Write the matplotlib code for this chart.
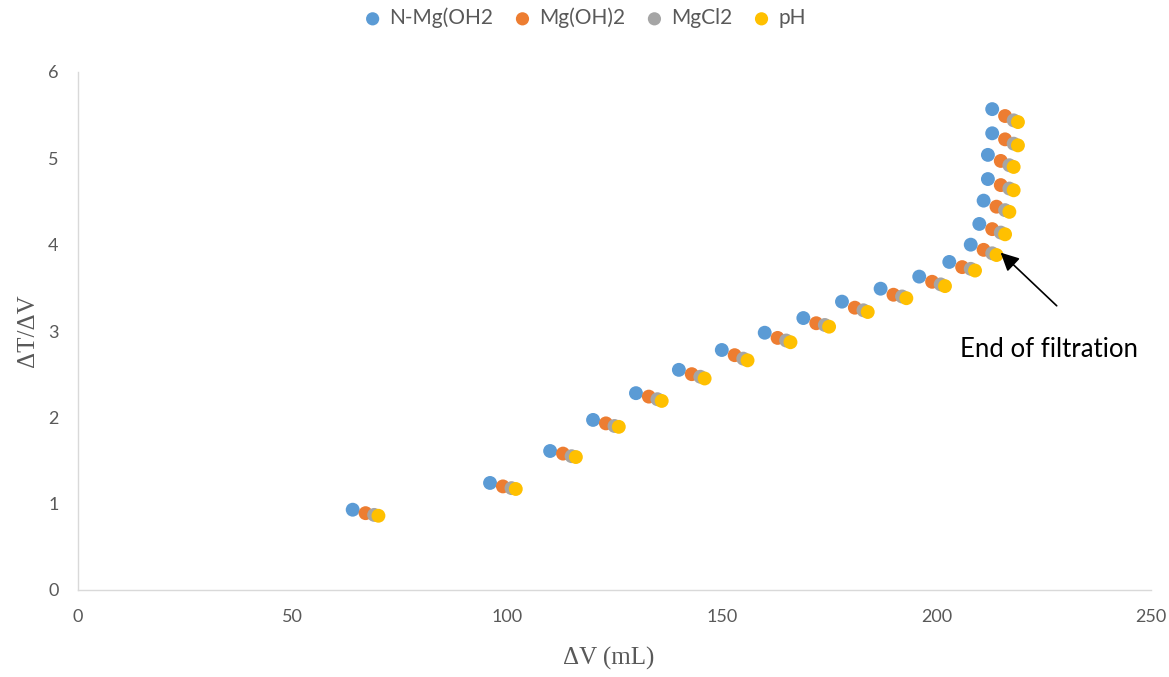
import matplotlib
matplotlib.use("Agg")
import matplotlib.pyplot as plt

series_names = ["N-Mg(OH2", "Mg(OH)2", "MgCl2", "pH"]
colors = ["#5B9BD5", "#ED7D31", "#A5A5A5", "#FFC000"]

x_nmg = [64, 96, 110, 120, 130, 140, 150, 160, 169, 178, 187, 196, 203, 208, 210, 211, 212, 212, 213, 213]
y_nmg = [0.93, 1.24, 1.61, 1.97, 2.28, 2.55, 2.78, 2.98, 3.15, 3.34, 3.49, 3.63, 3.80, 4.00, 4.24, 4.51, 4.76, 5.04, 5.29, 5.57]

x_mgoh = [67, 99, 113, 123, 133, 143, 153, 163, 172, 181, 190, 199, 206, 211, 213, 214, 215, 215, 216, 216]
y_mgoh = [0.89, 1.20, 1.58, 1.93, 2.24, 2.50, 2.72, 2.92, 3.09, 3.27, 3.42, 3.57, 3.74, 3.94, 4.18, 4.44, 4.69, 4.97, 5.22, 5.49]

x_mgcl = [69, 101, 115, 125, 135, 145, 155, 165, 174, 183, 192, 201, 208, 213, 215, 216, 217, 217, 218, 218]
y_mgcl = [0.87, 1.18, 1.55, 1.90, 2.21, 2.47, 2.68, 2.89, 3.07, 3.24, 3.40, 3.54, 3.72, 3.90, 4.14, 4.40, 4.65, 4.92, 5.17, 5.44]

x_ph = [70, 102, 116, 126, 136, 146, 156, 166, 175, 184, 193, 202, 209, 214, 216, 217, 218, 218, 219, 219]
y_ph = [0.86, 1.17, 1.54, 1.89, 2.19, 2.45, 2.66, 2.87, 3.05, 3.22, 3.38, 3.52, 3.70, 3.88, 4.12, 4.38, 4.63, 4.90, 5.15, 5.42]

x_ticks = [0, 50, 100, 150, 200, 250]
y_ticks = [0, 1, 2, 3, 4, 5, 6]

W, H = 1169, 677
L, R, T, B = 78, 1151, 72, 590
fig = plt.figure(figsize=(W/100, H/100), dpi=100)
ax = fig.add_axes([L/W, (H-B)/H, (R-L)/W, (B-T)/H])

all_x = [x_nmg, x_mgoh, x_mgcl, x_ph]
all_y = [y_nmg, y_mgoh, y_mgcl, y_ph]
for xs, ys, c, name in zip(all_x, all_y, colors, series_names):
    ax.scatter(xs, ys, s=100, color=c, label=name, edgecolors="none", zorder=3)

ax.set_xlim(0, 250)
ax.set_ylim(0, 6)
ax.set_xticks(x_ticks)
ax.set_yticks(y_ticks)
for s in ["top", "right"]:
    ax.spines[s].set_visible(False)
for s in ["left", "bottom"]:
    ax.spines[s].set_color("#D9D9D9")
    ax.spines[s].set_linewidth(1.0)
ax.tick_params(axis="both", length=0, labelsize=13, labelcolor="#595959")
ax.tick_params(axis="x", pad=14)
ax.tick_params(axis="y", pad=14)
for lbl in ax.get_xticklabels() + ax.get_yticklabels():
    lbl.set_fontfamily("Lato")

ax.set_xlabel("ΔV (mL)", fontsize=18, family="Liberation Serif", color="#595959")
ax.xaxis.set_label_coords((609 - L) / (R - L), -(658 - B) / (B - T))
ax.xaxis.label.set_verticalalignment("center")
ax.set_ylabel("ΔT/ΔV", fontsize=18, family="Liberation Serif", color="#595959")
ax.yaxis.set_label_coords(-(L - 28) / (R - L), 0.5)
ax.yaxis.label.set_verticalalignment("center")

ax.annotate("", xy=(214.5, 3.93), xytext=(228.5, 3.27),
            arrowprops=dict(arrowstyle="-|>,head_length=1.1,head_width=0.55", color="black", lw=1.2))
ax.text(226.3, 2.78, "End of filtration", fontsize=18.5, family="Lato",
        ha="center", va="center", color="black")

leg = fig.legend(loc="center", bbox_to_anchor=(585/W, 1 - 18/H), ncol=4, frameon=False,
                 prop={"family": "Lato", "size": 15}, handlelength=0.8, handletextpad=0.4,
                 columnspacing=1.0, markerscale=0.95)
for t in leg.get_texts():
    t.set_color("#595959")

fig.savefig("out.png", dpi=100)
